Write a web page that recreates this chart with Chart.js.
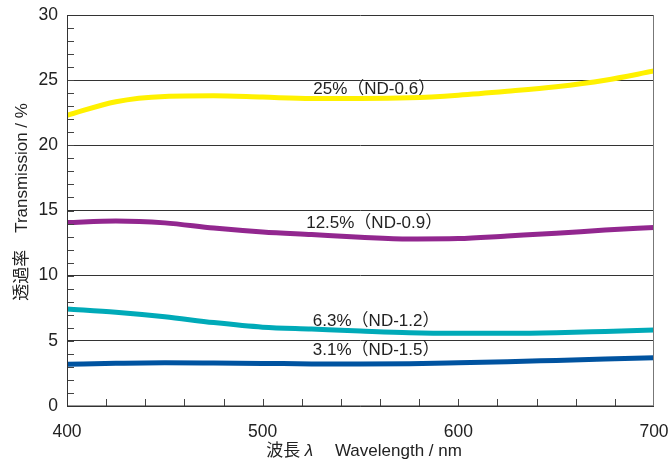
<!DOCTYPE html>
<html>
<head>
<meta charset="utf-8">
<script src="https://cdn.jsdelivr.net/npm/chart.js@4.4.0/dist/chart.umd.min.js"></script>
<style>
  html, body { margin: 0; padding: 0; background: #fff; }
  #wrap { width: 670px; height: 465px; }
</style>
</head>
<body>
<div id="wrap"><canvas id="grafico" width="670" height="465"></canvas></div>
<script>
// Dados //

const wavelengths = [400, 425, 450, 475, 500, 525, 550, 575, 600, 625, 650, 675, 700];
const nd06 = [22.3, 23.35, 23.75, 23.8, 23.7, 23.6, 23.6, 23.65, 23.85, 24.15, 24.5, 25.0, 25.7];
const nd09 = [14.07, 14.2, 14.05, 13.65, 13.35, 13.15, 12.95, 12.82, 12.85, 13.05, 13.25, 13.5, 13.7];
const nd12 = [7.45, 7.2, 6.85, 6.4, 6.05, 5.9, 5.75, 5.62, 5.58, 5.58, 5.62, 5.72, 5.83];
const nd15 = [3.2, 3.28, 3.32, 3.3, 3.27, 3.23, 3.22, 3.25, 3.32, 3.4, 3.5, 3.6, 3.7];

const seriesNames = ["25%（ND-0.6）", "12.5%（ND-0.9）", "6.3%（ND-1.2）", "3.1%（ND-1.5）"];
const seriesColors = ["#fff100", "#92278f", "#00aab8", "#0053a0"];

const xTickValues = [400, 500, 600, 700];
const yTickValues = [0, 5, 10, 15, 20, 25, 30];

// posição dos rótulos (em unidades dos eixos)
const labelSpots = [[557, 24.3], [557, 14.05], [558, 6.5], [558, 4.3]];

const FONTE = '"Liberation Sans", Arial, "Noto Sans CJK JP", sans-serif';

function toPoints(vals) {
    return wavelengths.map((w, i) => ({ x: w, y: vals[i] }));
}

const allSeries = [nd06, nd09, nd12, nd15];

// Plugin: moldura, ticks internos, rótulos e títulos //

const extras = {
    id: "extras",
    afterDatasetsDraw(chart) {
        const ctx = chart.ctx;
        const xs = chart.scales.x;
        const ys = chart.scales.y;
        ctx.save();
        ctx.font = "17px " + FONTE;
        ctx.fillStyle = "#222";
        ctx.textAlign = "center";
        ctx.textBaseline = "middle";
        labelSpots.forEach((p, i) => {
            ctx.fillText(seriesNames[i], xs.getPixelForValue(p[0]), ys.getPixelForValue(p[1]));
        });
        ctx.restore();
    },
    afterDraw(chart) {
        const ctx = chart.ctx;
        const a = chart.chartArea;
        const xs = chart.scales.x;
        const ys = chart.scales.y;
        ctx.save();

        // ticks menores
        ctx.strokeStyle = "#444";
        ctx.lineWidth = 1;
        ctx.beginPath();
        for (let v = 1; v < 30; v++) {
            const y = Math.round(ys.getPixelForValue(v)) + 0.5;
            ctx.moveTo(a.left, y);
            ctx.lineTo(a.left + 7, y);
        }
        for (let w = 420; w < 700; w += 20) {
            const x = Math.round(xs.getPixelForValue(w)) + 0.5;
            ctx.moveTo(x, a.bottom);
            ctx.lineTo(x, a.bottom - 7);
        }
        ctx.stroke();

        // moldura
        ctx.strokeStyle = "#333";
        ctx.beginPath();
        ctx.moveTo(Math.round(a.left) + 0.5, a.top);
        ctx.lineTo(Math.round(a.left) + 0.5, a.bottom);
        ctx.lineTo(a.right, a.bottom);
        ctx.stroke();
        ctx.strokeStyle = "#777";
        ctx.beginPath();
        ctx.moveTo(Math.round(a.right) - 0.5, a.top);
        ctx.lineTo(Math.round(a.right) - 0.5, a.bottom);
        ctx.stroke();

        // título eixo y
        ctx.fillStyle = "#222";
        ctx.font = "17px " + FONTE;
        ctx.translate(22, 202);
        ctx.rotate(-Math.PI / 2);
        ctx.textAlign = "center";
        ctx.textBaseline = "middle";
        ctx.fillText("透過率　Transmission / %", 0, 0);
        ctx.setTransform(1, 0, 0, 1, 0, 0);

        // título eixo x (com λ em itálico)
        const partes = [
            { t: "波長 ", f: "17px " + FONTE },
            { t: "λ", f: "italic 17px " + FONTE },
            { t: "　 Wavelength / nm", f: "17px " + FONTE }
        ];
        let total = 0;
        partes.forEach(p => { ctx.font = p.f; p.w = ctx.measureText(p.t).width; total += p.w; });
        let x = 364 - total / 2;
        ctx.textAlign = "left";
        ctx.textBaseline = "middle";
        partes.forEach(p => {
            ctx.font = p.f;
            ctx.fillText(p.t, x, 451);
            x += p.w;
        });
        ctx.restore();
    }
};

const chart = new Chart(document.getElementById("grafico"), {
    type: "line",
    data: {
        datasets: allSeries.map((vals, i) => ({
            label: seriesNames[i],
            data: toPoints(vals),
            borderColor: seriesColors[i],
            borderWidth: 5,
            pointRadius: 0,
            cubicInterpolationMode: "monotone",
            fill: false
        }))
    },
    options: {
        responsive: false,
        animation: false,
        devicePixelRatio: 1,
        layout: { padding: { left: 0, top: 15, right: 16, bottom: 0 } },
        plugins: {
            legend: { display: false },
            tooltip: { enabled: false }
        },
        scales: {
            x: {
                type: "linear",
                min: 400,
                max: 700,
                afterFit: s => { s.height = 59; s.paddingLeft = 0; s.paddingRight = 0; },
                afterBuildTicks: s => { s.ticks = xTickValues.map(v => ({ value: v })); },
                grid: { display: false },
                border: { display: false },
                ticks: {
                    color: "#222",
                    font: { family: FONTE, size: 17.5 },
                    padding: 8,
                    maxRotation: 0
                }
            },
            y: {
                min: 0,
                max: 30,
                afterFit: s => { s.width = 67; s.paddingTop = 0; s.paddingBottom = 0; },
                afterBuildTicks: s => { s.ticks = yTickValues.map(v => ({ value: v })); },
                grid: { color: "#333", lineWidth: 1, drawTicks: false },
                border: { display: false },
                ticks: {
                    color: "#222",
                    font: { family: FONTE, size: 17.5 },
                    padding: 9
                }
            }
        }
    },
    plugins: [extras]
});
</script>
</body>
</html>
